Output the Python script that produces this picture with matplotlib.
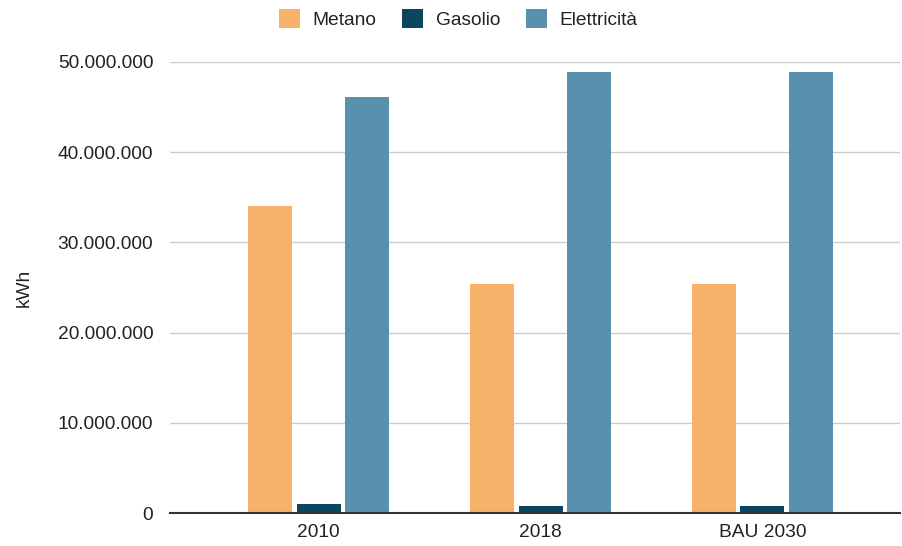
import matplotlib.pyplot as plt
import numpy as np
from matplotlib.ticker import FuncFormatter

plt.rcParams['font.family'] = ['Liberation Sans', 'DejaVu Sans']

# data
categories = ['2010', '2018', 'BAU 2030']
series_names = ['Metano', 'Gasolio', 'Elettricità']
metano = [34000000, 25400000, 25400000]
gasolio = [1000000, 780000, 780000]
elettricita = [46100000, 48900000, 48900000]
colors = ['#F6B26B', '#0B4661', '#5891AD']

fig = plt.figure(figsize=(9.03, 5.46), dpi=100)
ax = fig.add_axes([170 / 903, 33 / 546, 730 / 903, 451 / 546])

x = np.arange(len(categories))
step = 0.218
width = 0.198
for i, (vals, name) in enumerate(zip([metano, gasolio, elettricita], series_names)):
    ax.bar(x + (i - 1) * step, vals, width=width, color=colors[i], label=name, zorder=3)

ax.set_xlim(-0.67, 2.62)
ax.set_ylim(0, 50000000)
ax.set_yticks(range(0, 50000001, 10000000))
ax.yaxis.set_major_formatter(FuncFormatter(lambda v, p: f'{int(v):,}'.replace(',', '.')))
ax.set_xticks(x)
ax.set_xticklabels(categories)
ax.tick_params(length=0, labelsize=13.8, colors='#222222')
ax.tick_params(axis='y', pad=12)
ax.tick_params(axis='x', pad=8)

ax.grid(axis='y', color='#cccccc', linewidth=1, zorder=0)
for s in ['top', 'right', 'left']:
    ax.spines[s].set_visible(False)
ax.spines['bottom'].set_color('#333333')
ax.spines['bottom'].set_linewidth(1.5)
ax.spines['bottom'].set_zorder(4)

ax.set_ylabel('kWh', fontsize=13.8, color='#222222', labelpad=18)

fig.legend(loc='center', bbox_to_anchor=(458 / 903, 1 - 19 / 546), ncol=3, frameon=False,
           fontsize=13.8, handlelength=1.1, handleheight=1.1, handletextpad=0.65,
           columnspacing=1.35, labelcolor='#222222')

plt.savefig('out.png', dpi=100)
